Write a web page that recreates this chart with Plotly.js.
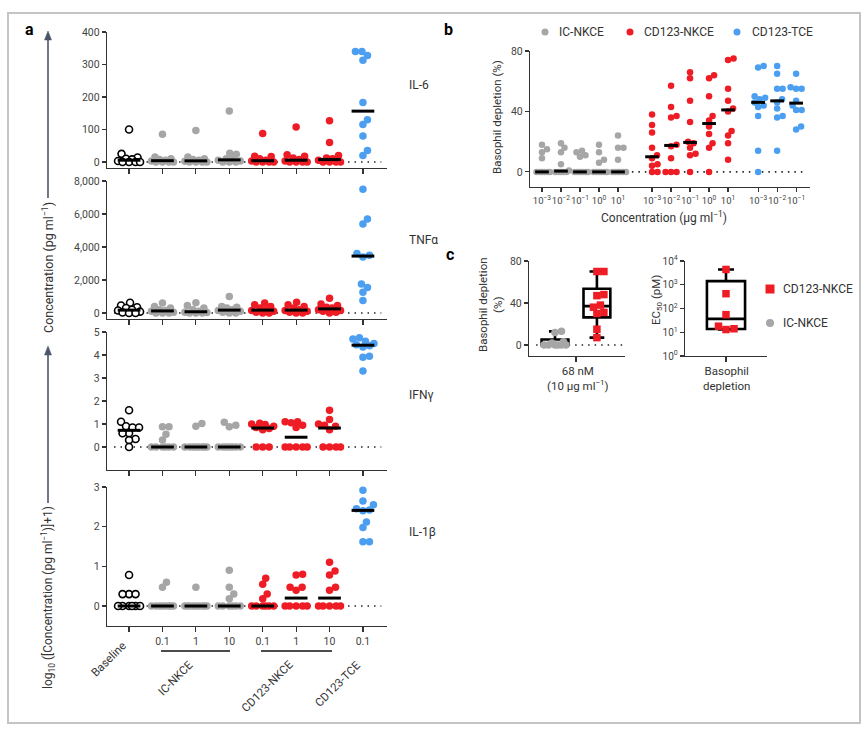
<!DOCTYPE html>
<html><head><meta charset="utf-8">
<script src="https://cdn.plot.ly/plotly-3.0.1.min.js"></script>
<style>html,body{margin:0;padding:0;background:#fff}#chart{width:867px;height:733px}</style>
</head><body><div id="chart"></div>
<script>
// ================= DATA =================
// Panel a groups
const groupsA = ['Baseline','IC-NKCE 0.1','IC-NKCE 1','IC-NKCE 10','CD123-NKCE 0.1','CD123-NKCE 1','CD123-NKCE 10','CD123-TCE 0.1'];
const groupKindA = ['base','ic','ic','ic','cd','cd','cd','tce'];
const doseTickLabels = ['', '0.1', '1', '10', '0.1', '1', '10', '0.1'];
const agentLabels = ['Baseline', 'IC-NKCE', 'CD123-NKCE', 'CD123-TCE'];

const il6 = [
  [100, 25, 14, 10, 8, 3, 0, 0, 0, 0],
  [85, 15, 10, 8, 5, 3, 0, 0, 0, 0],
  [97, 15, 10, 8, 5, 2, 0, 0, 0, 0],
  [157, 27, 24, 10, 8, 5, 3, 0, 0, 0],
  [88, 18, 17, 10, 5, 3, 0, 0, 0, 0],
  [108, 22, 18, 12, 8, 3, 0, 0, 0, 0],
  [127, 60, 20, 12, 10, 5, 0, 0, 0, 0],
  [340, 340, 328, 313, 183, 130, 115, 80, 35, 20]
];
const tnfa = [
  [620, 450, 350, 300, 200, 150, 80, 30, 0, 0],
  [600, 400, 300, 200, 150, 100, 50, 0, 0, 0],
  [620, 450, 300, 200, 100, 50, 30, 0, 0, 0],
  [1000, 400, 350, 300, 200, 150, 100, 50, 0, 0],
  [600, 500, 400, 300, 200, 150, 100, 50, 0, 0],
  [650, 500, 400, 300, 200, 150, 100, 50, 0, 0],
  [900, 550, 450, 350, 300, 200, 150, 100, 50, 0],
  [7500, 5700, 5400, 3600, 3500, 3400, 1750, 1550, 1250, 750]
];
const ifng = [
  [1.6, 1.1, 0.9, 0.85, 0.85, 0.6, 0.6, 0.35, 0.3, 0],
  [0.88, 0.88, 0.55, 0.3, 0, 0, 0, 0, 0, 0],
  [1.02, 0.9, 0, 0, 0, 0, 0, 0, 0, 0],
  [1.08, 0.95, 0.88, 0, 0, 0, 0, 0, 0, 0],
  [1.03, 1.0, 0.98, 0.9, 0.85, 0.8, 0.75, 0, 0, 0],
  [1.1, 1.1, 1.05, 0.95, 0.85, 0, 0, 0, 0, 0],
  [1.6, 1.2, 1.0, 0.95, 0.9, 0.75, 0, 0, 0, 0],
  [4.75, 4.7, 4.6, 4.5, 4.45, 4.4, 4.35, 3.95, 3.9, 3.3]
];
const il1b = [
  [0.78, 0.3, 0.3, 0.3, 0, 0, 0, 0, 0, 0],
  [0.6, 0.47, 0, 0, 0, 0, 0, 0, 0, 0],
  [0.47, 0, 0, 0, 0, 0, 0, 0, 0, 0],
  [0.9, 0.47, 0.3, 0.18, 0, 0, 0, 0, 0, 0],
  [0.7, 0.55, 0.3, 0.18, 0, 0, 0, 0, 0, 0],
  [0.8, 0.78, 0.47, 0.47, 0.4, 0, 0, 0, 0, 0],
  [1.1, 0.88, 0.78, 0.47, 0.4, 0, 0, 0, 0, 0],
  [2.92, 2.65, 2.55, 2.45, 2.42, 2.4, 2.12, 1.98, 1.62, 1.62]
];
const cytokineNames = ['IL-6', 'TNFα', 'IFNγ', 'IL-1β'];

// Panel b: basophil depletion (%) by concentration
const concTickLabels = ['10<sup>−3</sup>','10<sup>−2</sup>','10<sup>−1</sup>','10<sup>0</sup>','10<sup>1</sup>'];
const bIC = [
  [18, 13, 9, 15, 0, 0, 0, 0, 0, 0],
  [16, 19, 13, 5, 1, 0, 0, 0, 0, 0],
  [13, 11, 14, 10, 0, 0, 0, 0, 0, 0],
  [18, 13, 6, 8, 0, 0, 0, 0, 0, 0],
  [24, 16, 16, 8, 0, 0, 0, 0, 0, 0]
];
const bCD = [
  [38, 31, 26, 16, 11, 9, 5, 4, 0, 0],
  [57, 43, 37, 36, 18, 17, 9, 0, 0, 0],
  [66, 62, 47, 33, 20, 19, 16, 12, 11, 0],
  [64, 62, 50, 37, 34, 30, 25, 19, 16, 0],
  [75, 74, 55, 47, 42, 40, 27, 24, 19, 8]
];
const bTCE = [
  [70, 69, 50, 49, 48, 46, 44, 43, 37, 14, 0],
  [70, 65, 55, 55, 48, 46, 42, 37, 36, 14],
  [65, 56, 55, 55, 47, 44, 41, 41, 30, 28]
];
const legendB = ['IC-NKCE', 'CD123-NKCE', 'CD123-TCE'];

// Panel c
const cDeplIC = [13, 12, 3, 2, 0, 0, 0, 0, 0, 0];
const cDeplCD = [70, 70, 48, 47, 38, 36, 31, 30, 15, 7];
const cEC50 = [4400, 420, 55, 18, 14, 13];

// ================= HELPERS =================
const W = 867, H = 733;
const PX = x => x / W;
const PY = y => 1 - y / H;
const COL = {ic: '#a6a6a6', cd: '#ee1c25', tce: '#4c9ff0', base: '#000'};
const FONT = 'Roboto, "Liberation Sans", Arial, sans-serif';
const TXT = '#333';

function median(a) {
  const s = [...a].sort((p, q) => p - q), n = s.length;
  return n % 2 ? s[(n - 1) / 2] : (s[n / 2 - 1] + s[n / 2]) / 2;
}
function quant(a, p) { // (n+1)p method
  const s = [...a].sort((x, y) => x - y), n = s.length;
  const pos = (n + 1) * p;
  if (pos <= 1) return s[0];
  if (pos >= n) return s[n - 1];
  const lo = Math.floor(pos), fr = pos - lo;
  return s[lo - 1] + fr * (s[lo] - s[lo - 1]);
}
// beeswarm with a horizontal cap: returns x positions in axis units
function swarm(vals, center, pxPerX, yToPx, d, cap) {
  const idx = vals.map((v, i) => i).sort((a, b) => vals[a] - vals[b]);
  const placed = [], xs = new Array(vals.length);
  const cands = [0];
  for (let s = 0.5; s <= cap; s += 0.5) { cands.push(s, -s); }
  idx.forEach(i => {
    const y = yToPx(vals[i]);
    let best = 0, bestD = -1;
    for (const c of cands) {
      let md = Infinity;
      for (const p of placed) md = Math.min(md, Math.hypot(p[0] - c, p[1] - y));
      if (md >= d) { best = c; break; }
      if (md > bestD) { bestD = md; best = c; }
    }
    placed.push([best, y]);
    xs[i] = center + best / pxPerX;
  });
  return xs;
}

const traces = [], shapes = [], annotations = [];
function f(size, color) { return {family: FONT, size: size, color: color || TXT}; }
function ann(x, y, text, o) {
  annotations.push(Object.assign({xref: 'paper', yref: 'paper', x: PX(x), y: PY(y), text: text,
    xanchor: 'center', yanchor: 'middle', showarrow: false, font: f(12)}, o || {}));
}

const axBase = {showline: true, linecolor: '#333', linewidth: 1.2, ticks: 'outside', ticklen: 4,
  tickwidth: 1.2, tickcolor: '#333', showgrid: false, zeroline: false,
  tickfont: f(10.5, '#444'), fixedrange: true};

const layout = {
  width: W, height: H, margin: {l: 0, r: 0, t: 0, b: 0}, paper_bgcolor: '#fff', plot_bgcolor: 'rgba(0,0,0,0)',
  showlegend: false, font: {family: FONT}
};

// ================= PANEL a =================
const aX0 = 107, aX1 = 387, aRange = [-0.66, 7.72];
const aPxX = (aX1 - aX0) / (aRange[1] - aRange[0]);
const panelsA = [
  {data: il6, top: 32, bot: 168, range: [-18.5, 400], ticks: [0, 100, 200, 300, 400], fmt: '', labelY: 85},
  {data: tnfa, top: 181, bot: 319, range: [-364, 8000], ticks: [0, 2000, 4000, 6000, 8000], fmt: ',', labelY: 240},
  {data: ifng, top: 332, bot: 470, range: [-1, 5], ticks: [0, 1, 2, 3, 4, 5], fmt: '', labelY: 395},
  {data: il1b, top: 487, bot: 626, range: [-0.504, 3], ticks: [0, 1, 2, 3], fmt: '', labelY: 532}
];
panelsA.forEach((p, k) => {
  const n = k + 1, sfx = n === 1 ? '' : String(n), xa = 'x' + sfx, ya = 'y' + sfx;
  const pxY = (p.bot - p.top) / (p.range[1] - p.range[0]);
  const isBottom = k === 3;
  layout['xaxis' + sfx] = Object.assign({}, axBase, {
    domain: [PX(aX0), PX(aX1)], range: aRange, anchor: ya, tickvals: [0, 1, 2, 3, 4, 5, 6, 7],
    ticktext: doseTickLabels, showticklabels: isBottom, ticklen: 5, tickangle: 0
  });
  layout['yaxis' + sfx] = Object.assign({}, axBase, {
    domain: [PY(p.bot), PY(p.top)], range: p.range, anchor: xa, tickvals: p.ticks, tickformat: p.fmt
  });
  shapes.push({type: 'line', xref: xa, yref: ya, x0: -0.45, x1: 7.55, y0: 0, y1: 0, layer: 'below',
    line: {color: '#222', width: 1.6, dash: '1.5px,5px'}});
  p.data.forEach((vals, g) => {
    const kind = groupKindA[g];
    const xs = swarm(vals, g, aPxX, v => v * pxY, 6.5, 11);
    traces.push({type: 'scatter', mode: 'markers', x: xs, y: vals, xaxis: xa, yaxis: ya, name: groupsA[g],
      marker: kind === 'base'
        ? {size: 7, color: '#fff', line: {color: '#000', width: 1.6}}
        : {size: 7.5, color: COL[kind], line: {width: 0}},
      hoverinfo: 'skip', cliponaxis: false});
  });
  p.data.forEach((vals, g) => {
    const m = median(vals);
    traces.push({type: 'scatter', mode: 'lines', x: [g - 0.34, g + 0.34], y: [m, m], xaxis: xa, yaxis: ya,
      line: {color: '#000', width: 3}, hoverinfo: 'skip'});
  });
  ann(407, p.labelY, cytokineNames[k], {xanchor: 'left', font: f(12)});
});
// bottom agent labels
ann(132, 636, agentLabels[0], {textangle: -45, xanchor: 'right', yanchor: 'top', font: f(11.5)});
ann(199, 655, agentLabels[1], {textangle: -45, xanchor: 'right', yanchor: 'top', font: f(11.5)});
ann(299, 655, agentLabels[2], {textangle: -45, xanchor: 'right', yanchor: 'top', font: f(11.5)});
ann(366, 655, agentLabels[3], {textangle: -45, xanchor: 'right', yanchor: 'top', font: f(11.5)});
shapes.push({type: 'line', xref: 'paper', yref: 'paper', x0: PX(161), x1: PX(230), y0: PY(651), y1: PY(651), line: {color: '#111', width: 1.6}});
shapes.push({type: 'line', xref: 'paper', yref: 'paper', x0: PX(261), x1: PX(332), y0: PY(651), y1: PY(651), line: {color: '#111', width: 1.6}});
// left axis titles with arrows
const ARC = '#4b5668';
function arrowUp(x, yTip, yTail) {
  shapes.push({type: 'line', xref: 'paper', yref: 'paper', x0: PX(x), x1: PX(x), y0: PY(yTail), y1: PY(yTip + 6), line: {color: ARC, width: 1.6}});
  shapes.push({type: 'path', xref: 'paper', yref: 'paper',
    path: 'M' + PX(x) + ',' + PY(yTip) + ' L' + PX(x - 3.5) + ',' + PY(yTip + 9) + ' L' + PX(x + 3.5) + ',' + PY(yTip + 9) + ' Z',
    fillcolor: ARC, line: {color: ARC, width: 0.5}});
}
arrowUp(48, 31, 198);
arrowUp(48, 346, 503);
ann(48, 268, 'Concentration (pg ml<sup>−1</sup>)', {textangle: -90, font: f(12.5)});
ann(48, 598, 'log<sub>10</sub> ([Concentration (pg ml<sup>−1</sup>)]+1)', {textangle: -90, font: f(12)});

// ================= PANEL b =================
const bX0 = 530, bX1 = 810, bRange = [-0.63, 14.1];
const bPxX = (bX1 - bX0) / (bRange[1] - bRange[0]);
const bTop = 51, bBot = 187, bYR = [-10, 80];
const bPxY = (bBot - bTop) / (bYR[1] - bYR[0]);
const bStart = {ic: 0, cd: 5.79, tce: 11.37};
layout.xaxis5 = Object.assign({}, axBase, {domain: [PX(bX0), PX(bX1)], range: bRange, anchor: 'y5',
  tickvals: [0, 1, 2, 3, 4].map(i => bStart.ic + i).concat([0, 1, 2, 3, 4].map(i => bStart.cd + i), [0, 1, 2].map(i => bStart.tce + i)),
  ticktext: concTickLabels.concat(concTickLabels, concTickLabels.slice(0, 3)), tickangle: 0,
  tickfont: f(9.5, '#444')});
layout.yaxis5 = Object.assign({}, axBase, {domain: [PY(bBot), PY(bTop)], range: bYR, anchor: 'x5', tickvals: [0, 40, 80]});
shapes.push({type: 'line', xref: 'x5', yref: 'y5', x0: -0.4, x1: 13.95, y0: 0, y1: 0, layer: 'below',
  line: {color: '#222', width: 1.6, dash: '1.5px,5px'}});
[['ic', bIC], ['cd', bCD], ['tce', bTCE]].forEach(([kind, arr]) => {
  arr.forEach((vals, i) => {
    const c = bStart[kind] + i;
    traces.push({type: 'scatter', mode: 'markers', x: swarm(vals, c, bPxX, v => v * bPxY, 5.5, 8), y: vals,
      xaxis: 'x5', yaxis: 'y5', marker: {size: 6.5, color: COL[kind]}, hoverinfo: 'skip', cliponaxis: false});
  });
});
[['ic', bIC], ['cd', bCD], ['tce', bTCE]].forEach(([kind, arr]) => {
  arr.forEach((vals, i) => {
    const c = bStart[kind] + i, m = median(vals);
    traces.push({type: 'scatter', mode: 'lines', x: [c - 0.36, c + 0.36], y: [m, m], xaxis: 'x5', yaxis: 'y5',
      line: {color: '#000', width: 3}, hoverinfo: 'skip'});
  });
});
ann(497, 117, 'Basophil depletion (%)', {textangle: -90, font: f(11.5)});
ann(664, 217, 'Concentration (μg ml<sup>−1</sup>)', {font: f(12)});
// legend b
const legB = [[545, 557, 'ic'], [630, 642, 'cd'], [737, 750, 'tce']];
legB.forEach(([cx, tx, kind], i) => {
  shapes.push({type: 'circle', xref: 'paper', yref: 'paper', xsizemode: 'pixel', ysizemode: 'pixel',
    xanchor: PX(cx), yanchor: PY(32), x0: -3.5, x1: 3.5, y0: -3.5, y1: 3.5, fillcolor: COL[kind], line: {width: 0}});
  ann(tx, 32, legendB[i], {xanchor: 'left', font: f(12)});
});

// ================= PANEL c (left) =================
const cX0 = 529, cX1 = 625, cRange = [-0.62, 1.67];
const cPxX = (cX1 - cX0) / (cRange[1] - cRange[0]);
const cTop = 261, cBot = 356, cYR = [-10.5, 80];
const cPxY = (cBot - cTop) / (cYR[1] - cYR[0]);
layout.xaxis6 = Object.assign({}, axBase, {domain: [PX(cX0), PX(cX1)], range: cRange, anchor: 'y6',
  tickvals: [0.5], showticklabels: false, ticklen: 5});
layout.yaxis6 = Object.assign({}, axBase, {domain: [PY(cBot), PY(cTop)], range: cYR, anchor: 'x6', tickvals: [0, 40, 80]});
shapes.push({type: 'line', xref: 'x6', yref: 'y6', x0: -0.45, x1: 1.62, y0: 0, y1: 0, layer: 'below',
  line: {color: '#222', width: 1.6, dash: '1.5px,5px'}});
function boxTrace(vals, pos, xa, ya, width, ww) {
  return {type: 'box', x: [pos], q1: [quant(vals, 0.25)], median: [median(vals)], q3: [quant(vals, 0.75)],
    lowerfence: [Math.min(...vals)], upperfence: [Math.max(...vals)], xaxis: xa, yaxis: ya, width: width,
    whiskerwidth: ww, boxpoints: false, fillcolor: 'rgba(0,0,0,0)', line: {color: '#000', width: 2.6}, hoverinfo: 'skip'};
}
traces.push(boxTrace(cDeplIC, 0, 'x6', 'y6', 0.64, 0.45));
traces.push(boxTrace(cDeplCD, 1, 'x6', 'y6', 0.64, 0.55));
traces.push({type: 'scatter', mode: 'markers', x: swarm(cDeplIC, 0, cPxX, v => v * cPxY, 6.5, 11), y: cDeplIC,
  xaxis: 'x6', yaxis: 'y6', marker: {size: 7.5, color: COL.ic}, hoverinfo: 'skip', cliponaxis: false});
traces.push({type: 'scatter', mode: 'markers', x: swarm(cDeplCD, 1, cPxX, v => v * cPxY, 7, 12), y: cDeplCD,
  xaxis: 'x6', yaxis: 'y6', marker: {size: 7.5, color: COL.cd, symbol: 'square'}, hoverinfo: 'skip', cliponaxis: false});
ann(490, 305, 'Basophil depletion<br>(%)', {textangle: -90, font: f(11.5)});
ann(578, 378, '68 nM<br>(10 μg ml<sup>−1</sup>)', {font: f(11.5)});

// ================= PANEL c (right) =================
const dX0 = 685, dX1 = 767, dRange = [-1, 1];
const dPxX = (dX1 - dX0) / (dRange[1] - dRange[0]);
const dTop = 261, dBot = 356, dYR = [0, 4];
const dPxY = (dBot - dTop) / (dYR[1] - dYR[0]);
layout.xaxis7 = Object.assign({}, axBase, {domain: [PX(dX0), PX(dX1)], range: dRange, anchor: 'y7',
  tickvals: [0], showticklabels: false, ticklen: 5});
layout.yaxis7 = Object.assign({}, axBase, {domain: [PY(dBot), PY(dTop)], type: 'log', range: dYR, anchor: 'x7',
  tickvals: [1, 10, 100, 1000, 10000], ticktext: ['10<sup>0</sup>', '10<sup>1</sup>', '10<sup>2</sup>', '10<sup>3</sup>', '10<sup>4</sup>'],
  tickfont: f(10, '#444')});
traces.push(boxTrace(cEC50, 0, 'x7', 'y7', 0.93, 0.42));
traces.push({type: 'scatter', mode: 'markers', x: swarm(cEC50, 0, dPxX, v => Math.log10(v) * dPxY, 8, 15), y: cEC50,
  xaxis: 'x7', yaxis: 'y7', marker: {size: 7.5, color: COL.cd, symbol: 'square'}, hoverinfo: 'skip', cliponaxis: false});
ann(656, 300, 'EC<sub>50</sub> (pM)', {textangle: -90, font: f(11.5)});
ann(726, 378, 'Basophil<br>depletion', {font: f(11.5)});
// legend c
shapes.push({type: 'rect', xref: 'paper', yref: 'paper', xsizemode: 'pixel', ysizemode: 'pixel',
  xanchor: PX(770), yanchor: PY(289), x0: -4.5, x1: 4.5, y0: -4.5, y1: 4.5, fillcolor: COL.cd, line: {width: 0}});
ann(781, 289, 'CD123-NKCE', {xanchor: 'left', font: f(12)});
shapes.push({type: 'circle', xref: 'paper', yref: 'paper', xsizemode: 'pixel', ysizemode: 'pixel',
  xanchor: PX(770), yanchor: PY(323), x0: -4, x1: 4, y0: -4, y1: 4, fillcolor: COL.ic, line: {width: 0}});
ann(781, 323, 'IC-NKCE', {xanchor: 'left', font: f(12)});

// ================= panel letters & frame =================
ann(23, 30, '<b>a</b>', {xanchor: 'left', font: f(16, '#000')});
ann(442, 30, '<b>b</b>', {xanchor: 'left', font: f(16, '#000')});
ann(444, 254, '<b>c</b>', {xanchor: 'left', font: f(16, '#000')});
shapes.push({type: 'rect', xref: 'paper', yref: 'paper', x0: PX(8), x1: PX(860), y0: PY(723), y1: PY(13),
  line: {color: '#c4c4c4', width: 2}, fillcolor: 'rgba(0,0,0,0)', layer: 'below'});

layout.shapes = shapes;
layout.annotations = annotations;
Plotly.newPlot('chart', traces, layout, {staticPlot: true, displayModeBar: false});
</script>
</body></html>
